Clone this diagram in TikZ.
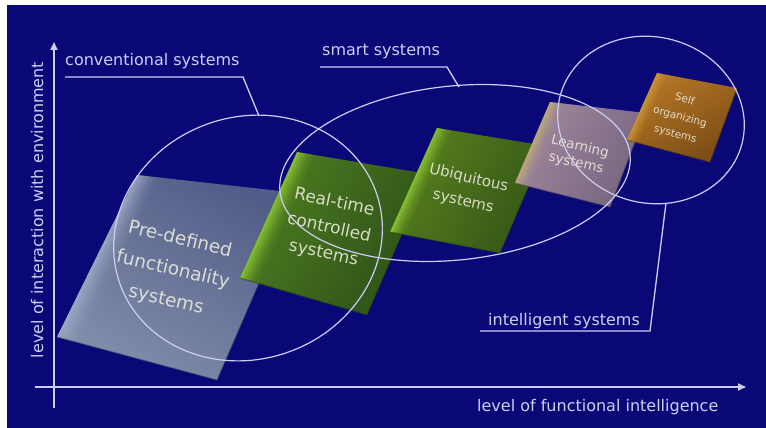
\documentclass[tikz,border=0pt]{standalone}
\usepackage{fontspec}
\setmainfont{DejaVu Sans}
\usetikzlibrary{arrows.meta,calc}
\definecolor{bg}{RGB}{10,8,118}
\definecolor{ln}{RGB}{205,205,245}
\definecolor{txt}{RGB}{236,236,222}
\definecolor{aBev}{RGB}{160,172,198}
\definecolor{aMain}{RGB}{130,142,170}
\definecolor{aDark}{RGB}{82,92,136}
\definecolor{gBev}{RGB}{145,205,55}
\definecolor{gMain}{RGB}{78,124,32}
\definecolor{gDark}{RGB}{44,80,24}
\definecolor{uMain}{RGB}{88,128,30}
\definecolor{uDark}{RGB}{52,86,22}
\definecolor{lBev}{RGB}{195,175,115}
\definecolor{lMain}{RGB}{160,136,156}
\definecolor{lDark}{RGB}{118,100,128}
\definecolor{oBev}{RGB}{210,155,60}
\definecolor{oMain}{RGB}{180,120,38}
\definecolor{oDark}{RGB}{124,76,22}
\newcommand\drawslab[8]{%
  \shade[left color=#6, right color=#7, shading angle=#8] (#1)--(#2)--(#3)--(#4)--cycle;
  \foreach \f/\o in {0/0.8,0.02/0.62,0.04/0.46,0.06/0.32,0.08/0.2,0.10/0.11,0.12/0.05}{
    \fill[#5, opacity=\o] ($(#4)!\f!(#3)$) -- ($(#1)!\f!(#2)$)
      -- ($(#1)!\f+0.02!(#2)$) -- ($(#4)!\f+0.02!(#3)$) -- cycle;
  }
  \draw[#7!70!black, line width=1.2pt, opacity=0.45] (#4)--(#3)--(#2);
}
\tikzset{
  lbl/.style={text=ln, font=\fontsize{16}{19}\selectfont, inner sep=0pt},
  leader/.style={draw=ln, line width=1.3pt},
  ring/.style={draw=ln, line width=1.2pt},
  axisline/.style={draw=ln, line width=1.8pt, -{Triangle[length=8pt,width=7pt]}},
  boxtxt/.style={text=txt, text opacity=0.88, align=center, inner sep=0pt}
}
\begin{document}
\begin{tikzpicture}[x=1pt,y=-1pt]
\useasboundingbox (0,0) rectangle (766,428);
\fill[white] (0,0) rectangle (766,428);
\fill[bg] (7,5) rectangle (766,428);

% slab corners
\coordinate (A1) at (137,175); \coordinate (B1) at (298,193);
\coordinate (C1) at (217,380); \coordinate (D1) at (57,337);
\coordinate (A2) at (297,152); \coordinate (B2) at (428,174);
\coordinate (C2) at (367,315); \coordinate (D2) at (240,278);
\coordinate (A3) at (437,128); \coordinate (B3) at (546,146);
\coordinate (C3) at (500,253); \coordinate (D3) at (390,232);
\coordinate (A4) at (550,102); \coordinate (B4) at (646,113);
\coordinate (C4) at (610,207); \coordinate (D4) at (515,183);
\coordinate (A5) at (657,73);  \coordinate (B5) at (737,88);
\coordinate (C5) at (710,162); \coordinate (D5) at (627,140);

\drawslab{A1}{B1}{C1}{D1}{aBev}{aMain}{aDark}{150}
\drawslab{A2}{B2}{C2}{D2}{gBev}{gMain}{gDark}{60}
\drawslab{A3}{B3}{C3}{D3}{gBev}{uMain}{uDark}{60}
\drawslab{A4}{B4}{C4}{D4}{lBev}{lMain}{lDark}{60}
\drawslab{A5}{B5}{C5}{D5}{oBev}{oMain}{oDark}{30}

% texts in slabs
\node[boxtxt, font=\fontsize{18.5}{31}\selectfont, rotate=-13] (t1) at (173,270)
  {Pre-defined\\functionality\\systems};
\node[boxtxt, font=\fontsize{17}{26}\selectfont, rotate=-12] (t2) at (329,228)
  {Real-time\\controlled\\systems};
\node[boxtxt, font=\fontsize{15}{24}\selectfont, rotate=-13] (t3) at (466,190)
  {Ubiquitous\\systems};
\node[boxtxt, font=\fontsize{13.5}{17}\selectfont, rotate=-13] (t4) at (578,155)
  {Learning\\systems};
\node[boxtxt, font=\fontsize{10.5}{18}\selectfont, rotate=-15] (t5) at (680,117)
  {Self\\organizing\\systems};

% rings
\coordinate (E1) at (248,238);
\coordinate (E2) at (455,173);
\coordinate (E3) at (651,120);
\draw[ring, rotate around={20:(E1)}] (E1) ellipse [x radius=136pt, y radius=121pt];
\draw[ring, rotate around={6:(E2)}] (E2) ellipse [x radius=176pt, y radius=87pt];
\draw[ring, rotate around={-15:(E3)}] (E3) ellipse [x radius=94pt, y radius=83pt];

% axes
\coordinate (yb) at (54,408); \coordinate (yt) at (54,42);
\coordinate (xl) at (35,387); \coordinate (xr) at (746,387);
\draw[axisline] (yb) -- (yt);
\draw[axisline] (xl) -- (xr);
\node[lbl, rotate=90, anchor=base] (ylab) at (43,210) {level of interaction with environment};
\node[lbl, anchor=base west] (xlab) at (477,411) {level of functional intelligence};

% labels with leaders
\node[lbl, anchor=base west] (conv) at (65,66) {conventional systems};
\node[lbl, anchor=base west] (smart) at (322,56) {smart systems};
\node[lbl, anchor=base west] (intel) at (488,325) {intelligent systems};
\coordinate (c1) at (65,77); \coordinate (c2) at (243,77); \coordinate (c3) at (259,116);
\coordinate (s1) at (320,67); \coordinate (s2) at (447,67); \coordinate (s3) at (459,87);
\coordinate (i1) at (480,331); \coordinate (i2) at (650,331); \coordinate (i3) at (666,203);
\draw[leader] (c1) -- (c2) -- (c3);
\draw[leader] (s1) -- (s2) -- (s3);
\draw[leader] (i1) -- (i2) -- (i3);
\end{tikzpicture}
\end{document}
